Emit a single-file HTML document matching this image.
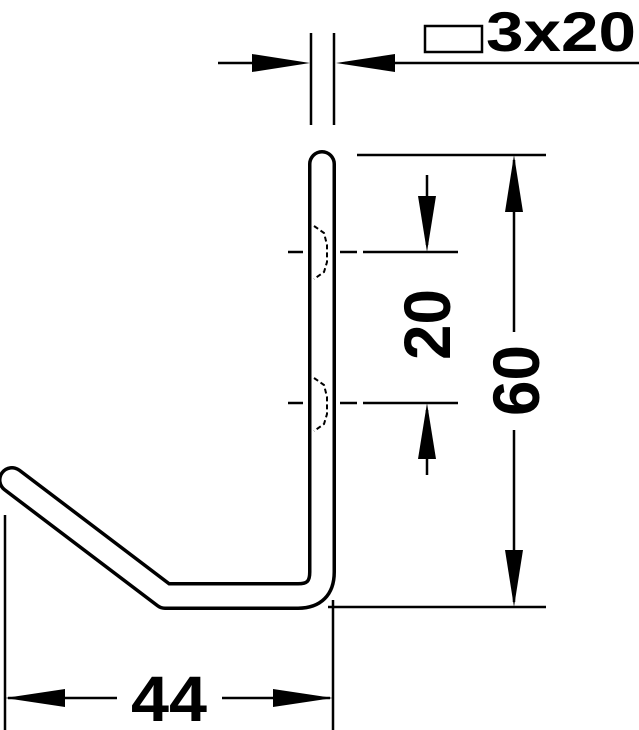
<!DOCTYPE html>
<html><head><style>html,body{margin:0;padding:0;background:#fff}svg{display:block}</style></head><body>
<svg width="639" height="730" viewBox="0 0 639 730" xmlns="http://www.w3.org/2000/svg" font-family="Liberation Sans, sans-serif" font-weight="bold">
<g stroke="#000" fill="none" stroke-width="2.5">
<!-- hook -->
<path d="M322,164 L322,572 Q322,596 298,596 L165,596 L12,480" stroke-width="28" stroke-linecap="round" stroke-linejoin="round"/>
<path d="M322,164 L322,572 Q322,596 298,596 L165,596 L12,480" stroke="#fff" stroke-width="21" stroke-linecap="round" stroke-linejoin="round"/>
<!-- top dim -->
<line x1="311" y1="33" x2="311" y2="125"/>
<line x1="334" y1="33" x2="334" y2="125"/>
<line x1="218" y1="63" x2="300" y2="63"/>
<line x1="345" y1="63" x2="639" y2="63"/>
<rect x="425" y="26" width="57" height="26"/>
<!-- 60 dim -->
<line x1="357" y1="155" x2="546" y2="155"/>
<line x1="328" y1="607" x2="546" y2="607"/>
<line x1="514" y1="160" x2="514" y2="332"/>
<line x1="514" y1="430" x2="514" y2="602"/>
<!-- 20 dim -->
<line x1="288" y1="252" x2="303" y2="252"/>
<line x1="340" y1="252" x2="357" y2="252"/>
<line x1="363" y1="252" x2="458" y2="252"/>
<line x1="288" y1="403" x2="303" y2="403"/>
<line x1="340" y1="403" x2="357" y2="403"/>
<line x1="363" y1="403" x2="458" y2="403"/>
<line x1="427" y1="175" x2="427" y2="245"/>
<line x1="427" y1="410" x2="427" y2="475"/>
<!-- hole dashes -->
<g stroke-width="2" stroke-dasharray="5,3">
<path d="M314,226 L324,233 L327,245 L327,262 L324,272 L314,279"/>
<path d="M314,378 L324,385 L327,397 L327,414 L324,424 L314,431"/>
</g>
<!-- 44 dim -->
<line x1="5" y1="515" x2="5" y2="730"/>
<line x1="333" y1="600" x2="333" y2="730"/>
<line x1="8" y1="698" x2="117" y2="698"/>
<line x1="222" y1="698" x2="330" y2="698"/>
</g>
<g fill="#000">
<polygon points="310,63 252,54 252,72"/>
<polygon points="336,63 395,54 395,72"/>
<polygon points="514,155 505,212 523,212"/>
<polygon points="514,607 505,550 523,550"/>
<polygon points="427,252 418,196 436,196"/>
<polygon points="427,403 418,459 436,459"/>
<polygon points="5,698 65,689 65,707"/>
<polygon points="333,698 273,689 273,707"/>
</g>
<text x="486" y="51" font-size="56" textLength="150" lengthAdjust="spacingAndGlyphs">3x20</text>
<text x="131" y="721" font-size="64" textLength="76" lengthAdjust="spacingAndGlyphs">44</text>
<text transform="translate(450,360) rotate(-90)" font-size="66" textLength="71" lengthAdjust="spacingAndGlyphs">20</text>
<text transform="translate(539,416) rotate(-90)" font-size="66" textLength="71" lengthAdjust="spacingAndGlyphs">60</text>
</svg>
</body></html>
